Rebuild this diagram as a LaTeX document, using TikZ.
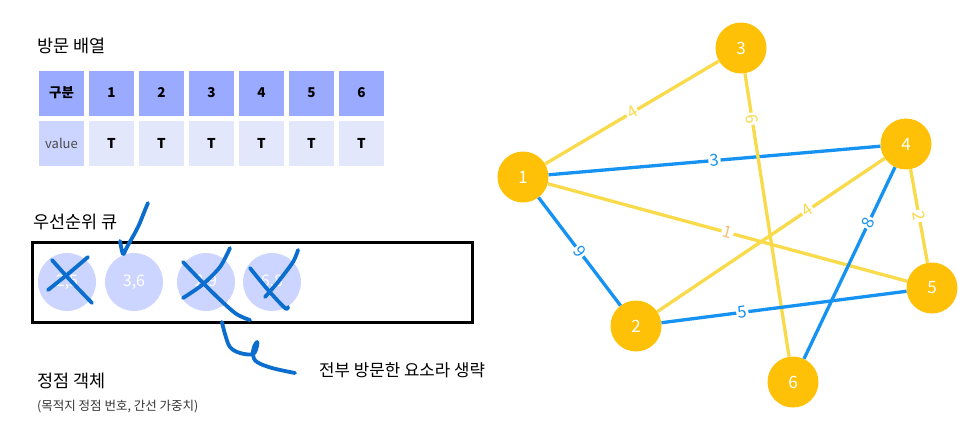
\documentclass[tikz,border=0pt]{standalone}
\usepackage{fontspec}
\setmainfont{Noto Sans CJK KR}
\definecolor{hdrc}{HTML}{99AAFF}
\definecolor{valc}{HTML}{CCD5FF}
\definecolor{cellc}{HTML}{E3E7FC}
\definecolor{qc}{HTML}{CCD5FF}
\definecolor{gold}{HTML}{FFC107}
\definecolor{yel}{HTML}{F9DA4A}
\definecolor{blu}{HTML}{1592F2}
\definecolor{orl}{HTML}{F6BE78}
\definecolor{handc}{HTML}{0B6ECF}
\begin{document}
\begin{tikzpicture}[x=1pt,y=-1pt,
  hdr/.style={fill=hdrc, minimum width=45pt, minimum height=45pt, inner sep=0pt, font=\bfseries\fontsize{13.5}{15}\selectfont},
  valcell/.style={fill=valc, minimum width=45pt, minimum height=45pt, inner sep=0pt, text=black!70, font=\fontsize{13}{15}\selectfont},
  tcell/.style={fill=cellc, minimum width=45pt, minimum height=45pt, inner sep=0pt, font=\bfseries\fontsize{13.5}{15}\selectfont},
  qnode/.style={circle, fill=qc, minimum size=58pt, inner sep=0pt, text=white, font=\fontsize{16}{18}\selectfont},
  gnode/.style={circle, fill=gold, minimum size=51pt, inner sep=0pt, text=white, font=\fontsize{17}{19}\selectfont},
  yedge/.style={draw=yel, line width=3.3pt},
  bedge/.style={draw=blu, line width=3.3pt},
  lbl/.style={fill=white, inner sep=1.5pt, sloped, font=\fontsize{16.5}{18}\selectfont},
  hand/.style={draw=handc, line width=3.8pt, line cap=round, line join=round},
  title/.style={anchor=west, inner sep=0pt, font=\fontsize{17.5}{20}\selectfont}
]
\useasboundingbox (0,0) rectangle (967,442);

% ---- visit array
\node[title] (t1) at (37,46) {방문 배열};
\node[hdr] (h0) at (61.5,93) {구분};
\foreach \i in {1,...,6} {
  \node[hdr] (h\i) at (61.5+50*\i,93) {\i};
  \node[tcell] (v\i) at (61.5+50*\i,143) {T};
}
\node[valcell] (v0) at (61.5,143) {value};

% ---- priority queue
\node[title] (t2) at (33,222) {우선순위 큐};
\draw[line width=3pt] (32,242) rectangle (472,322);
\node[qnode] (q1) at (67,282) {2,5};
\node[qnode] (q2) at (134,282) {3,6};
\node[qnode] (q3) at (206,282) {2,9};
\node[qnode] (q4) at (272,282) {6,8};

\node[title] (t3) at (37,381) {정점 객체};
\node[anchor=west, inner sep=0pt, text=black!80, font=\fontsize{12.5}{14}\selectfont] (t4) at (37,407) {(목적지 정점 번호, 간선 가중치)};
\node[anchor=west, inner sep=0pt, font=\fontsize{16.8}{19}\selectfont] (t5) at (319,370) {전부 방문한 요소라 생략};

% ---- handwritten marks
\draw[hand] plot[smooth] coordinates {(120,241) (123,254) (127,247) (138,227) (145,210) (148,203)};
\draw[hand] plot[smooth] coordinates {(52,260) (70,280) (92,303)};
\draw[hand] plot[smooth] coordinates {(48,290) (68,274) (88,257)};
\draw[hand] plot[smooth] coordinates {(183,262) (210,290) (235,313) (250,320)};
\draw[hand] plot[smooth] coordinates {(183,298) (202,285) (220,267) (230,248)};
\draw[hand] plot[smooth] coordinates {(250,268) (268,290) (285,308) (288,307)};
\draw[hand] plot[smooth] coordinates {(265,297) (278,282) (293,262) (298,250)};
\draw[hand] plot[smooth, tension=0.6] coordinates {(222,322) (225,334) (230,347) (240,353) (253,354) (257,346) (257,342) (254,347) (253,355) (257,362) (272,368) (295,373)};

% ---- graph
\node[gnode] (n1) at (523,177) {1};
\node[gnode] (n3) at (741,48) {3};
\node[gnode] (n4) at (906,144) {4};
\node[gnode] (n2) at (636,326) {2};
\node[gnode] (n5) at (932,288) {5};
\node[gnode] (n6) at (793,382) {6};

\draw[yedge] (n1) -- node[lbl, text=yel] (l13) {4} (n3);
\draw[bedge] (n1) -- node[lbl, text=blu] (l14) {3} (n4);
\draw[yedge] (n1) -- node[lbl, text=orl] (l15) {1} (n5);
\draw[bedge] (n1) -- node[lbl, text=blu] (l12) {9} (n2);
\draw[yedge] (n3) -- node[lbl, text=yel, pos=0.16] (l36) {6} (n6);
\draw[yedge] (n2) -- node[lbl, text=yel, pos=0.66] (l24) {4} (n4);
\draw[bedge] (n4) -- node[lbl, text=blu, pos=0.29] (l46) {8} (n6);
\draw[yedge] (n4) -- node[lbl, text=yel] (l45) {2} (n5);
\draw[bedge] (n2) -- node[lbl, text=blu, pos=0.33] (l25) {5} (n5);
\end{tikzpicture}
\end{document}
